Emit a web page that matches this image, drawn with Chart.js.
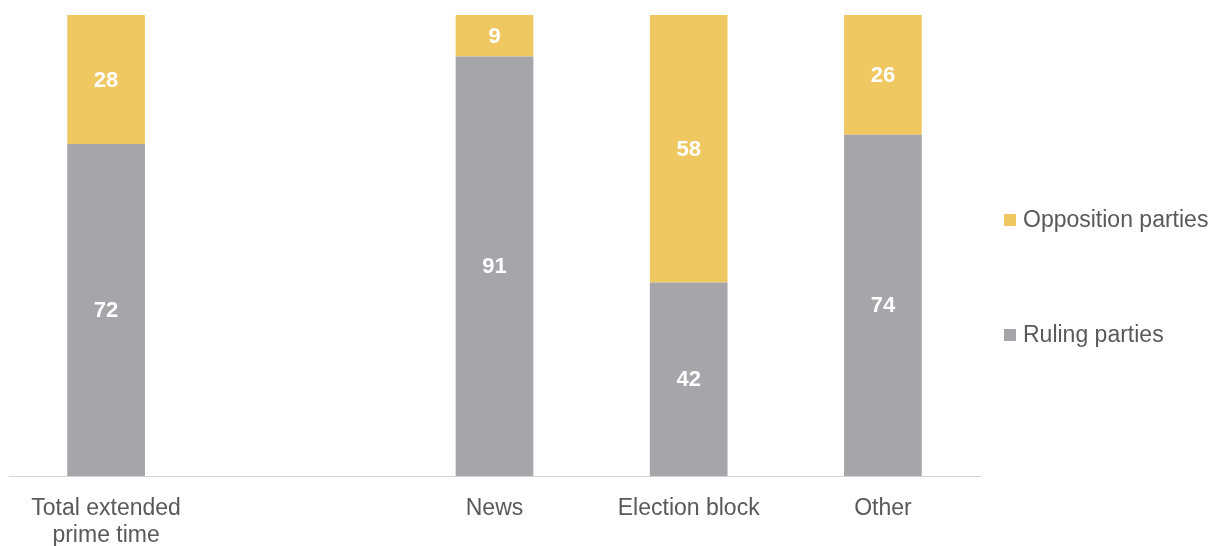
<!DOCTYPE html>
<html>
<head>
<meta charset="utf-8">
<script src="https://cdn.jsdelivr.net/npm/chart.js@4"></script>
<style>
  html, body { margin: 0; padding: 0; background: #fff; }
  #wrap { width: 1225px; height: 546px; position: relative; }
</style>
</head>
<body>
<div id="wrap"><canvas id="grafico"></canvas></div>
<script>
const categorias = [["Total extended", "prime time"], "", "News", "Election block", "Other"];
const ruling = [72, null, 91, 42, 74];
const opposition = [28, null, 9, 58, 26];

const corCinza = "#a6a5aa";
const corAmarela = "#f0c862";
const corTexto = "#595959";
const fonte = "'Liberation Sans', Arial, sans-serif";

// rotulos brancos no meio de cada segmento
const rotulos = {
  id: "rotulos",
  afterDatasetsDraw(chart) {
    const ctx = chart.ctx;
    ctx.save();
    ctx.fillStyle = "#fff";
    ctx.font = "bold 22px " + fonte;
    ctx.textAlign = "center";
    ctx.textBaseline = "middle";
    chart.data.datasets.forEach((ds, i) => {
      chart.getDatasetMeta(i).data.forEach((bar, j) => {
        const v = ds.data[j];
        if (v == null) return;
        const meio = (bar.y + bar.base) / 2;
        ctx.fillText(String(v), bar.x, meio + 1);
      });
    });
    ctx.restore();
  },
};

// legenda a direita, oposicao em cima
const legenda = {
  id: "legenda",
  afterDraw(chart) {
    const ctx = chart.ctx;
    const itens = [
      { ds: chart.data.datasets[1], y: 220 },
      { ds: chart.data.datasets[0], y: 335 },
    ];
    ctx.save();
    ctx.font = "23px " + fonte;
    ctx.textBaseline = "middle";
    itens.forEach((it) => {
      ctx.fillStyle = it.ds.backgroundColor;
      ctx.fillRect(1004, it.y - 6, 12, 12);
      ctx.fillStyle = corTexto;
      ctx.fillText(it.ds.label, 1023, it.y + 1);
    });
    ctx.restore();
  },
};

new Chart(document.querySelector("#grafico"), {
  type: "bar",
  data: {
    labels: categorias,
    datasets: [
      {
        label: "Ruling parties",
        data: ruling,
        backgroundColor: corCinza,
        categoryPercentage: 1,
        barPercentage: 0.4,
      },
      {
        label: "Opposition parties",
        data: opposition,
        backgroundColor: corAmarela,
        categoryPercentage: 1,
        barPercentage: 0.4,
      },
    ],
  },
  options: {
    responsive: true,
    maintainAspectRatio: false,
    animation: false,
    layout: { padding: { left: 9, right: 245, top: 15, bottom: 0 } },
    plugins: {
      legend: { display: false },
      tooltip: { enabled: false },
    },
    scales: {
      x: {
        stacked: true,
        grid: { display: false, drawTicks: false },
        border: { display: true, color: "#d4d4d4", width: 1 },
        ticks: {
          color: corTexto,
          font: { family: fonte, size: 23, lineHeight: 1.18 },
          padding: 19,
          maxRotation: 0,
          autoSkip: false,
        },
        afterFit(scale) {
          scale.height = 70;
        },
      },
      y: {
        stacked: true,
        display: false,
        min: 0,
        max: 100,
      },
    },
  },
  plugins: [rotulos, legenda],
});
</script>
</body>
</html>
